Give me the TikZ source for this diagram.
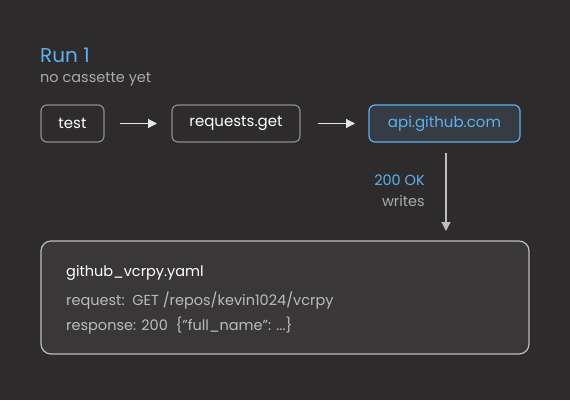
\documentclass[tikz,border=0pt]{standalone}
\usepackage{fontspec}
\setmainfont{Poppins}
\usepackage{tikz}
\usetikzlibrary{positioning,arrows.meta}
\definecolor{bg}{HTML}{2D2B2C}
\definecolor{runblue}{HTML}{5FB0EE}
\definecolor{boxgray}{HTML}{8C8C8C}
\definecolor{apifill}{HTML}{363B44}
\definecolor{filefill}{HTML}{393738}
\definecolor{fileline}{HTML}{BDBDBD}
\definecolor{textgray}{HTML}{ABABAB}
\definecolor{linegray}{HTML}{E6E6E6}
\tikzset{
    callbox/.style = {draw = boxgray, line width = 1.2pt, rounded corners = 6pt, fill = bg,
        text = white, minimum height = 37pt, inner xsep = 0pt, font = \fontsize{15}{17}\selectfont},
    flow/.style = {draw = linegray, line width = 1.2pt, -{Triangle[length = 9pt, width = 9pt]}}
}
\begin{document}
\begin{tikzpicture}[x = 1pt, y = -1pt]
        \fill [bg] (0, 0) rectangle (570, 400);
        \useasboundingbox (0, 0) rectangle (570, 400);
        \node [anchor = base west, inner sep = 0pt, text = runblue, font = \fontsize{20}{23}\selectfont] (run) at (40, 62) {Run 1};
        \node [anchor = base west, inner sep = 0pt, text = textgray, font = \fontsize{14.5}{16}\selectfont] (sub) at (40, 82) {no cassette yet};
        \node [callbox, minimum width = 63pt] (test) at (72.5, 123.5) {test};
        \node [callbox, minimum width = 128pt] (req) at (236, 123.5) {requests.get};
        \node [callbox, minimum width = 151pt, draw = runblue, fill = apifill, text = runblue] (api) at (444.5, 123.5) {api.github.com};
        \draw [flow] (test.east) ++(15, 0) coordinate (a1) -- (157, 123.5);
        \draw [flow] (req.east) ++(17, 0) coordinate (a2) -- (355, 123.5);
        \draw [draw = fileline, fill = filefill, line width = 1.2pt, rounded corners = 10pt] (41, 241) rectangle (529, 354);
        \coordinate (filetop) at (446, 231);
        \draw [flow, draw = fileline] (446, 153) -- (filetop);
        \node [anchor = base east, inner sep = 0pt, text = runblue, font = \fontsize{14.5}{16}\selectfont] (ok) at (425, 185) {200 OK};
        \node [anchor = base east, inner sep = 0pt, text = textgray, font = \fontsize{14.5}{16}\selectfont] (wr) at (425, 206) {writes};
        \node [anchor = base west, inner sep = 0pt, text = white, font = \fontsize{14.5}{16}\selectfont\fontseries{m}] (fname) at (66, 276) {github\_vcrpy.yaml};
        \node [anchor = base west, inner sep = 0pt, text = textgray!80!white, font = \fontsize{14.5}{16}\selectfont] (reqline) at (66, 305) {request:\ \ GET /repos/kevin1024/vcrpy};
        \node [anchor = base west, inner sep = 0pt, text = textgray!80!white, font = \fontsize{14.5}{16}\selectfont] (resline) at (66, 330) {response: 200\ \ \{"full\_name": ...\}};
\end{tikzpicture}
\end{document}
